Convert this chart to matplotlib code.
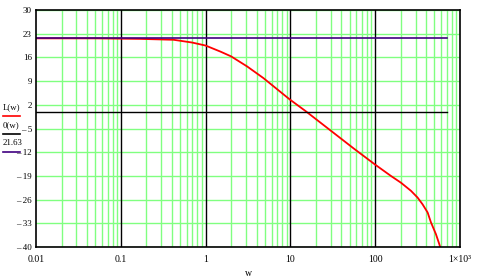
import matplotlib
matplotlib.use("Agg")
import matplotlib.pyplot as plt
import numpy as np

# data
w_L = [0.01, 0.05, 0.17, 0.42, 0.69, 1.0, 1.5, 2.0, 3.1, 4.8, 9.8, 15, 22.7, 32,
       55.8, 99, 153, 201, 264, 316, 362, 415, 454, 520, 569, 600, 650]
L_vals = [21.63, 21.62, 21.47, 21.2, 20.4, 19.5, 17.7, 16.3, 13.3, 9.9, 3.6, 0.2,
          -3.3, -6.2, -10.9, -15.6, -19.0, -21.0, -23.4, -25.4, -27.4, -29.8,
          -32.7, -36.2, -39.1, -41.0, -45.0]
w_range = [0.01, 700]
theta_vals = [0, 0]
const_val = 21.63
y_ticks = [30, 23, 16, 9, 2, -5, -12, -19, -26, -33, -40]
y_labels = ["30", "23", "16", "9", "2", "– 5", "– 12", "– 19", "– 26", "– 33", "– 40"]
x_ticks = [0.01, 0.1, 1, 10, 100, 1000]
x_labels = ["0.01", "0.1", "1", "10", "100", "1×10³"]

FONT = "Liberation Serif"
GREEN = "#80ff80"
PURPLE = "#400080"

W, H = 479, 279
fig = plt.figure(figsize=(W / 100, H / 100), dpi=100)
ax = fig.add_axes([36 / W, 1 - 247 / H, (460 - 36) / W, (247 - 10) / H])
ax.set_xscale("log")
ax.set_xlim(0.01, 1000)
ax.set_ylim(-40, 30)

# grid: minor verticals green
for dec in [0.01, 0.1, 1, 10, 100]:
    for k in range(2, 10):
        ax.axvline(dec * k, color=GREEN, lw=1, zorder=1)
for yv in y_ticks:
    ax.axhline(yv, color=GREEN, lw=1, zorder=1)
for dec in [0.1, 1, 10, 100]:
    ax.axvline(dec, color="black", lw=1, zorder=2)

ax.plot(w_L, L_vals, color="red", lw=1.3, zorder=3)
ax.plot(w_range, theta_vals, color="black", lw=1, zorder=4)
ax.plot(w_range, [const_val, const_val], color=PURPLE, lw=1.2, zorder=5)

ax.set_yticks(y_ticks)
ax.set_yticklabels(y_labels, fontfamily=FONT, fontsize=6.5)
ax.set_xticks(x_ticks)
ax.set_xticklabels(x_labels, fontfamily=FONT, fontsize=7)
ax.xaxis.set_minor_locator(matplotlib.ticker.NullLocator())
ax.tick_params(length=0, pad=6)
ax.tick_params(axis="y", pad=3)
for s in ax.spines.values():
    s.set_color("black")
    s.set_linewidth(1.2)
    s.set_zorder(6)

fig.text(248 / W, 1 - 273 / H, "w", fontfamily=FONT, fontsize=7, ha="center", va="center")

# legend
leg = [("L(w)", "red", 107, 116), ("0(w)", "black", 125, 134), ("21.63", PURPLE, 143, 152)]
for txt, col, ty, ly in leg:
    fig.text(3 / W, 1 - ty / H, txt, fontfamily=FONT, fontsize=6.3, ha="left", va="center")
    fig.add_artist(matplotlib.lines.Line2D([3 / W, 20 / W], [1 - ly / H, 1 - ly / H],
                                           color=col, lw=1.2, transform=fig.transFigure))

fig.savefig("out.png", dpi=100)
